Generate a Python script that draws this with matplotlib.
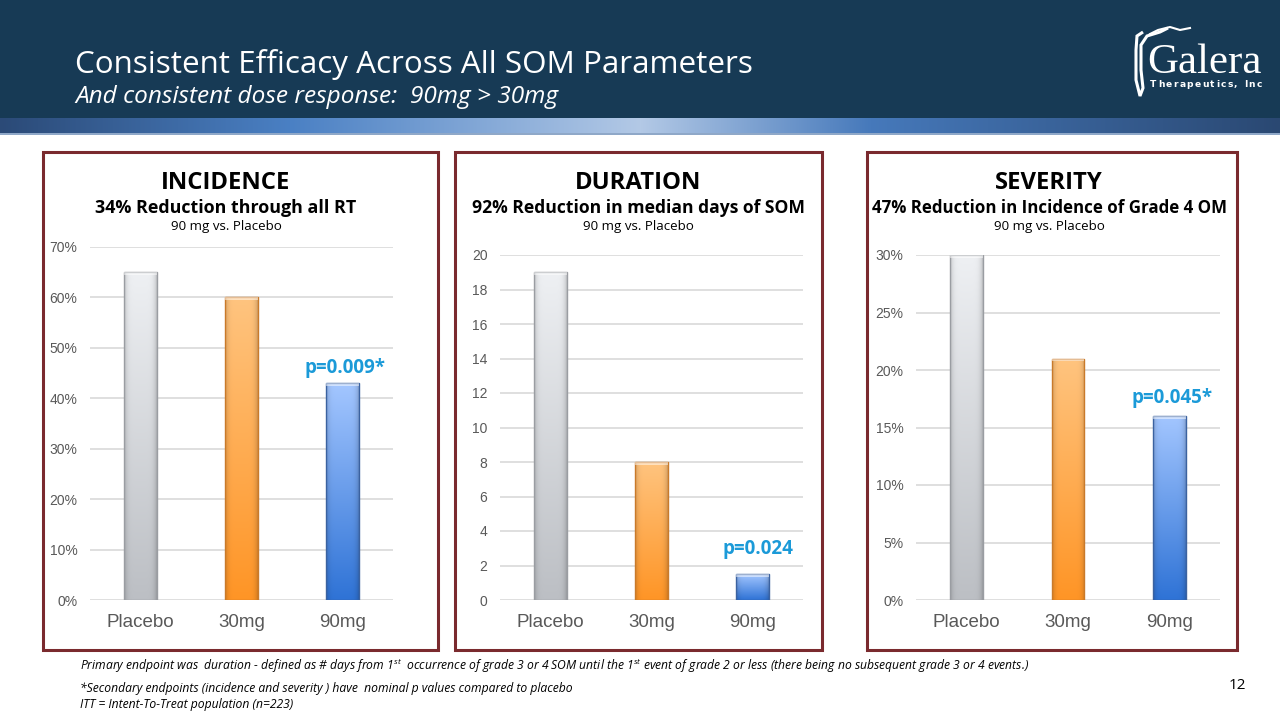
import numpy as np
import matplotlib
matplotlib.use("Agg")
import matplotlib.pyplot as plt
from matplotlib.patches import Rectangle
from matplotlib.colors import to_rgb
from matplotlib.path import Path
from matplotlib.patches import PathPatch

plt.rcParams['mathtext.fontset'] = 'custom'
plt.rcParams['mathtext.rm'] = 'Open Sans:italic'
plt.rcParams['mathtext.it'] = 'Open Sans:italic'

# ---------------- data ----------------
categories = ["Placebo", "30mg", "90mg"]
incidence = [65, 60, 43]          # %
duration = [19, 8, 1.5]           # median days
severity = [30, 21, 16]           # %

panel_titles = ["INCIDENCE", "DURATION", "SEVERITY"]
panel_subtitles = ["34% Reduction through all RT",
                   "92% Reduction in median days of SOM",
                   "47% Reduction in Incidence of Grade 4 OM"]
panel_notes = ["90 mg vs. Placebo", "90 mg vs. Placebo", "90 mg vs. Placebo"]
pvalues = ["p=0.009*", "p=0.024", "p=0.045*"]
incidence_ticks = [0, 10, 20, 30, 40, 50, 60, 70]
duration_ticks = [0, 2, 4, 6, 8, 10, 12, 14, 16, 18, 20]
severity_ticks = [0, 5, 10, 15, 20, 25, 30]

title = "Consistent Efficacy Across All SOM Parameters"
subtitle = "And consistent dose response:  90mg > 30mg"
logo_name = "Galera"
logo_sub = "Therapeutics, Inc"
page_number = "12"
footnotes = [r"Primary endpoint was  duration - defined as # days from 1$^{\rm st}$  occurrence of grade 3 or 4 SOM until the 1$^{\rm st}$ event of grade 2 or less (there being no subsequent grade 3 or 4 events.)",
             "*Secondary endpoints (incidence and severity ) have  nominal p values compared to placebo",
             "ITT = Intent-To-Treat population (n=223)"]

W, H = 1280, 720
fig = plt.figure(figsize=(12.8, 7.2), dpi=100)
renderer = fig.canvas.get_renderer()

def fx(x): return x / W
def fy(y): return 1 - y / H

# ---------------- header ----------------
bg = fig.add_axes([0, 0, 1, 1], zorder=-10)
bg.set_xlim(0, W); bg.set_ylim(H, 0); bg.axis('off')
bg.add_patch(Rectangle((0, 0), W, 118, color="#173a55", lw=0))
stops = [(0, "#2b4a77"), (290, "#4a80c4"), (640, "#b3c9e6"), (870, "#4679bb"), (1280, "#2a4872")]
xs = np.arange(W)
sx = [s[0] for s in stops]
cols = np.array([to_rgb(s[1]) for s in stops])
grad = np.stack([np.interp(xs, sx, cols[:, i]) for i in range(3)], axis=-1)
bg.imshow(grad[None, :, :], extent=(0, W, 134, 118), aspect='auto', zorder=1)
bg.add_patch(Rectangle((0, 133), W, 1.5, color="#8fa8c8", lw=0, zorder=2))

fig.text(fx(75), fy(73), title, color="white", fontsize=22.6, family="Open Sans",
         va="baseline", ha="left")
fig.text(fx(75), fy(103), subtitle, color="white", fontsize=17.6, family="Open Sans",
         style="italic", va="baseline", ha="left")

# logo
fig.text(fx(1147), fy(73), logo_name, color="white", fontsize=31, family="Liberation Serif",
         va="baseline", ha="left")
# tracked small caption: measure glyph widths then spread to fit 1150..1262
sub_props = dict(color="white", fontsize=6.6, family="DejaVu Sans", weight="bold",
                 va="baseline", ha="left")
widths = []
for ch in logo_sub:
    t = fig.text(0, 0, ch if ch != " " else "n", **sub_props)
    w = t.get_window_extent(renderer).width
    if ch == " ":
        w *= 0.6
    widths.append(w)
    t.remove()
track = (112 - sum(widths)) / (len(logo_sub) - 1)
xc = 1150
for ch, w in zip(logo_sub, widths):
    if ch != " ":
        fig.text(fx(xc), fy(87), ch, **sub_props)
    xc += w + track
verts = [(1143, 32), (1137, 36), (1136, 50), (1136, 80), (1140, 96), (1143, 88), (1141, 70),
         (1141, 45), (1147, 36), (1160, 32), (1168, 28)]
bg.add_patch(PathPatch(Path(verts), facecolor="none", edgecolor="white", lw=2.2, zorder=3))
bg.plot([1150, 1158, 1170, 1180, 1190], [34, 30, 27, 30, 28], color="white", lw=1.5, zorder=3)

# ---------------- panels ----------------
panel_boxes = [(43, 152, 438, 650), (455, 152, 822, 650), (867, 152, 1237, 650)]
for (x0, y0, x1, y1) in panel_boxes:
    bg.add_patch(Rectangle((x0, y0), x1 - x0, y1 - y0, facecolor="white",
                           edgecolor="#7a2a2e", lw=2.2, zorder=3))

title_cx = [226, 638, 1049]
sub_sizes = [12.9, 12.6, 12.2]
for i in range(3):
    fig.text(fx(title_cx[i]), fy(189), panel_titles[i], fontsize=17.2, weight="bold",
             family="Open Sans", ha="center", va="baseline", color="black")
    fig.text(fx(title_cx[i]), fy(213), panel_subtitles[i], fontsize=sub_sizes[i], weight="bold",
             family="Open Sans", ha="center", va="baseline", color="black")
    fig.text(fx(title_cx[i]), fy(230), panel_notes[i], fontsize=9.6,
             family="Open Sans", ha="center", va="baseline", color="black")

axes_geo = [(90, 393, 247, 600), (500, 803, 255, 600), (916, 1220, 255, 600)]
datasets = [incidence, duration, severity]
ticksets = [incidence_ticks, duration_ticks, severity_ticks]
fmt_pct = [True, False, True]
pv_y = [46.0, 2.96, 17.57]
pv_x = [2.02, 2.05, 2.03]

top_colors = ["#eef0f3", "#ffc47f", "#a3c6ff"]
bot_colors = ["#bcbfc4", "#ff9526", "#2f73d6"]
edge_colors = ["#9a9da2", "#c97a2a", "#3b62a0"]

def bar_image(top, bot, n=100, m=40):
    t = np.array(to_rgb(top)); b = np.array(to_rgb(bot))
    v = np.linspace(0, 1, n)[:, None, None]
    img = t * (1 - v) + b * v
    u = np.linspace(-1, 1, m)
    shade = 1 - 0.18 * np.abs(u) ** 6
    img = img * shade[None, :, None]
    return np.clip(img, 0, 1)

for k in range(3):
    gx0, gx1, gyt, gy0 = axes_geo[k]
    ticks = ticksets[k]
    ax = fig.add_axes([fx(gx0), fy(gy0), (gx1 - gx0) / W, (gy0 - gyt) / H])
    ax.set_xlim(-0.5, 2.5)
    ax.set_ylim(ticks[0], ticks[-1])
    ax.set_yticks(ticks)
    if fmt_pct[k]:
        ax.set_yticklabels([f"{t}%" for t in ticks])
    else:
        ax.set_yticklabels([str(t) for t in ticks])
    ax.set_xticks(range(3))
    ax.set_xticklabels(categories)
    ax.tick_params(axis='y', length=0, pad=9, labelsize=10, labelcolor="#595959")
    ax.tick_params(axis='x', length=0, pad=10, labelsize=13.5, labelcolor="#595959")
    for lab in ax.get_yticklabels() + ax.get_xticklabels():
        lab.set_family("Liberation Sans")
    for s in ax.spines.values():
        s.set_visible(False)
    ax.grid(axis='y', color="#d9d9d9", lw=1.2)
    ax.set_axisbelow(True)
    ax.patch.set_alpha(0)
    ax.set_zorder(5)
    bw = 0.32
    vals = datasets[k]
    for i, v in enumerate(vals):
        img = bar_image(top_colors[i], bot_colors[i])
        im = ax.imshow(img, extent=(i - bw / 2, i + bw / 2, 0, v), aspect='auto',
                       zorder=2, interpolation='bilinear')
        rect = Rectangle((i - bw / 2, 0), bw, v, facecolor='none',
                         edgecolor=edge_colors[i], lw=1.0, zorder=3)
        ax.add_patch(rect)
        im.set_clip_path(rect)
        hh = (ticks[-1] - ticks[0]) * 0.008
        ax.add_patch(Rectangle((i - bw / 2, v - hh), bw, hh, facecolor="white",
                               alpha=0.5, lw=0, zorder=3))
    ax.set_xlim(-0.5, 2.5)
    ax.set_ylim(ticks[0], ticks[-1])
    ax.text(pv_x[k], pv_y[k], pvalues[k], color="#1b9ad8", fontsize=13.5, weight="bold",
            family="Open Sans", ha="center", va="center", zorder=6)

# ---------------- footnotes ----------------
fy_list = [670, 692, 708]
for t, yy in zip(footnotes, fy_list):
    fig.text(fx(80), fy(yy), t, fontsize=8.7, family="Open Sans", style="italic",
             color="black", va="baseline", ha="left")
fig.text(fx(1246), fy(689), page_number, fontsize=11, family="Open Sans", ha="right",
         va="baseline", color="black")

fig.savefig("out.png", dpi=100)
